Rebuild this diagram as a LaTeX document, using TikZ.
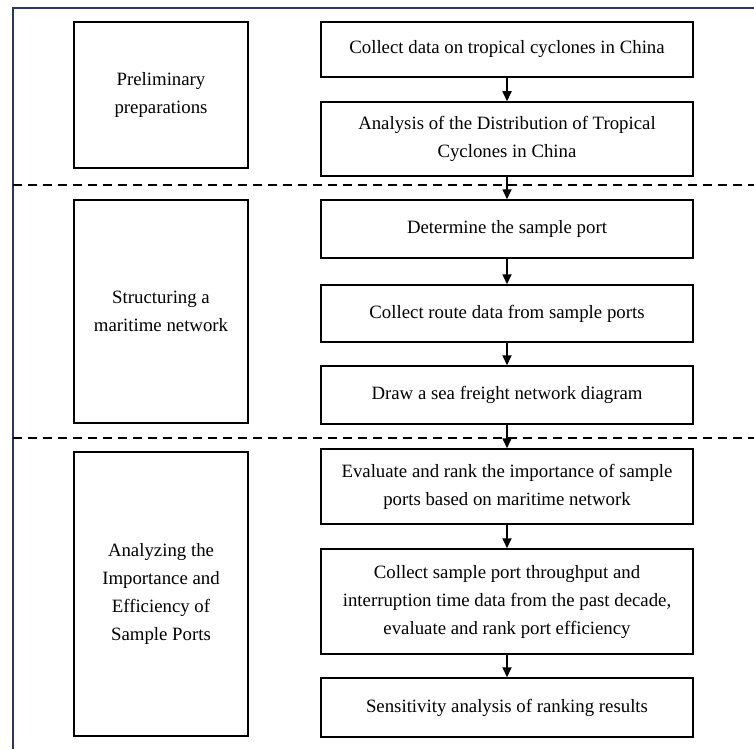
\documentclass[tikz,border=0pt]{standalone}
\usepackage{fontspec}
\setmainfont{Liberation Serif}
\usepackage{xcolor}
\usepackage{tikz}
\usetikzlibrary{arrows.meta,positioning}
\definecolor{framenavy}{RGB}{42,56,96}
\tikzset{
	>=Latex,
	stagebox/.style={
		draw,
		line width=1.5pt,
		minimum width=174pt,
		align=center,
		inner sep=0pt,
		font=\fontsize{18.8}{28}\selectfont
	},
	taskbox/.style={
		draw,
		line width=1.5pt,
		minimum width=372pt,
		align=center,
		inner sep=0pt,
		font=\fontsize{18.8}{28}\selectfont
	},
	flow/.style={
		-{Triangle[length=10pt,width=9pt]},
		line width=1.7pt
	},
	split/.style={
		line width=1.6pt,
		dash pattern=on 9pt off 6pt
	}
}

\begin{document}
\begin{tikzpicture}[x=1pt,y=-1pt]
	\useasboundingbox (0,0) rectangle (754,749);
	
	% --- OUTER FRAME ---
	\draw[framenavy, line width=2pt] (13,749) -- (13,8) -- (754,8);
	
	% --- SECTION SEPARATORS ---
	\coordinate (s1a) at (13,185);
	\coordinate (s1b) at (754,185);
	\coordinate (s2a) at (13,438);
	\coordinate (s2b) at (754,438);
	\draw[split] (s1a) -- (s1b);
	\draw[split] (s2a) -- (s2b);
	
	% --- STAGES (LEFT) ---
	\node[stagebox, minimum height=146pt] (prep) at (161, 95) {Preliminary\\preparations};
	\node[stagebox, minimum height=223pt] (struct) at (161,311.5) {Structuring a\\maritime network};
	\node[stagebox, minimum height=284pt] (analyze) at (161,594) {Analyzing the\\Importance and\\Efficiency of\\Sample Ports};
	
	% --- TASKS (RIGHT) ---
	\node[taskbox, minimum height=55pt] (collect) at (507, 49.5) {Collect data on tropical cyclones in China};
	\node[taskbox, minimum height=74pt] (distrib) at (507,139) {Analysis of the Distribution of Tropical\\Cyclones in China};
	\node[taskbox, minimum height=58pt] (sample) at (507,229) {Determine the sample port};
	\node[taskbox, minimum height=57pt] (route) at (507,313.5) {Collect route data from sample ports};
	\node[taskbox, minimum height=58pt] (network) at (507,395) {Draw a sea freight network diagram};
	\node[taskbox, minimum height=75pt] (rankimp) at (507,486.5) {Evaluate and rank the importance of sample\\ports based on maritime network};
	\node[taskbox, minimum height=105pt] (rankeff) at (507,601.5) {Collect sample port throughput and\\interruption time data from the past decade,\\evaluate and rank port efficiency};
	\node[taskbox, minimum height=59pt] (sensit) at (507,707.5) {Sensitivity analysis of ranking results};
	
	% --- FLOW ---
	\foreach \i/\j in {collect/distrib,distrib/sample,sample/route,route/network,network/rankimp,rankimp/rankeff,rankeff/sensit} {
		\draw[flow] (\i) -- (\j);
	}
	
\end{tikzpicture}
\end{document}
